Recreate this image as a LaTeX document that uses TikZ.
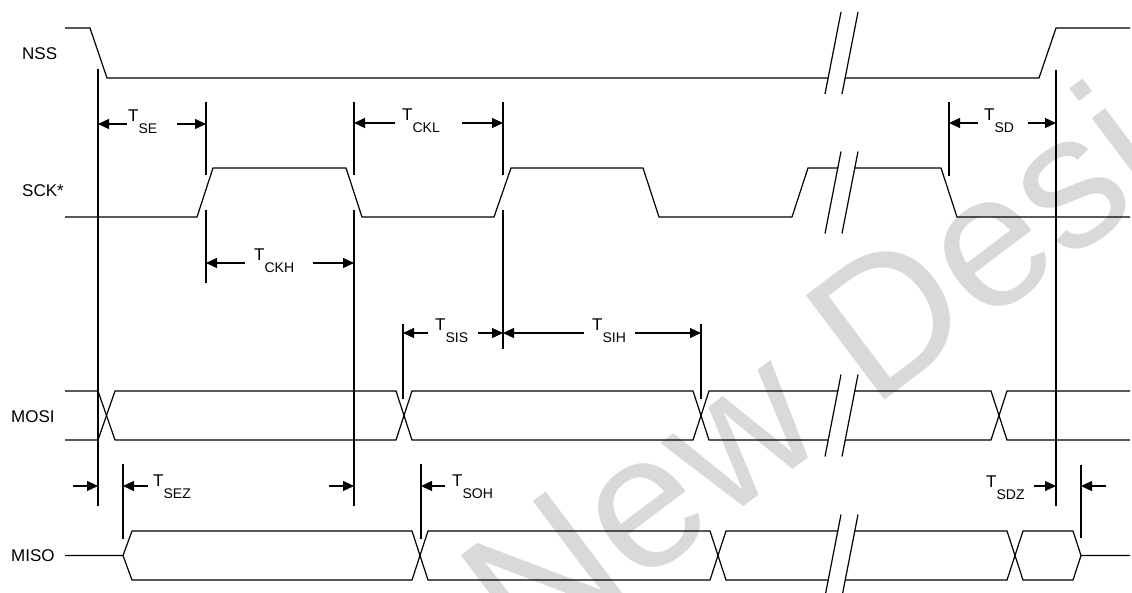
\documentclass[tikz,border=0pt]{standalone}
\usepackage{fontspec}
\setmainfont{Liberation Sans}
\usetikzlibrary{arrows.meta}
\newcommand\Tlab[1]{T\raisebox{-12pt}{\fontsize{14}{14}\selectfont #1}}
\begin{document}
\begin{tikzpicture}[x=1pt,y=-1pt,
  sig/.style={line width=1.2pt, line join=miter},
  guide/.style={line width=1.2pt},
  dim/.style={line width=1.2pt, -{Triangle[length=11pt,width=10pt]}},
  lbl/.style={font=\fontsize{17}{20}\selectfont, inner sep=0pt, anchor=base west},
  brk/.style={line width=1.2pt},
  wmark/.style={font=\fontsize{190}{190}\selectfont, text=black!15, rotate=37, anchor=base west, inner sep=0pt}
]
\useasboundingbox (0,0) rectangle (1132,592);
% watermark
\begin{scope}
\clip (0,0) rectangle (1132,592);
\node[wmark] (wm) at (527,670) {New Designs};
\end{scope}
% signal names
\node[lbl] (nss) at (22,59) {NSS};
\node[lbl] (sck) at (22,196) {SCK*};
\node[lbl] (mosi) at (11,422) {MOSI};
\node[lbl] (miso) at (11,561) {MISO};
% NSS
\draw[sig] (65,28) -- (90,28) -- (107,78) -- (1039,78) -- (1056,28) -- (1130,28);
% SCK
\draw[sig] (65,217) -- (197,217) -- (213,168) -- (346,168) -- (362,217) -- (494,217) -- (511,168) -- (643,168) -- (659,217) -- (792,217) -- (808,168) -- (941,168) -- (957,217) -- (1130,217);
% MOSI
\draw[sig] (65,391) -- (98,391) -- (115,440) -- (396,440) -- (412,391) -- (693,391) -- (709,440) -- (991,440) -- (1007,391) -- (1130,391);
\draw[sig] (65,440) -- (98,440) -- (115,391) -- (396,391) -- (412,440) -- (693,440) -- (709,391) -- (991,391) -- (1007,440) -- (1130,440);
% MISO
\draw[sig] (65,555.5) -- (123,555.5) -- (132,531) -- (412,531) -- (428,580) -- (710,580) -- (726,531) -- (1007,531) -- (1023,580) -- (1073,580) -- (1081,555.5) -- (1130,555.5);
\draw[sig] (123,555.5) -- (132,580) -- (412,580) -- (428,531) -- (710,531) -- (726,580) -- (1007,580) -- (1023,531) -- (1073,531) -- (1081,555.5);
% breaks
\foreach \c in {53,192.5,415.5,555.5}{
  \fill[white] (825.5,\c+41) -- (841.5,\c-41) -- (857.5,\c-41) -- (841.5,\c+41) -- cycle;
  \draw[brk] (825,\c+41) -- (841,\c-41);
  \draw[brk] (842,\c+41) -- (858,\c-41);
}
% guide lines
\draw[guide] (98,69) -- (98,506);
\draw[guide] (206,102) -- (206,175) (206,210) -- (206,283);
\draw[guide] (354,102) -- (354,175) (354,210) -- (354,506);
\draw[guide] (503,102) -- (503,175) (503,210) -- (503,349);
\draw[guide] (949,102) -- (949,176);
\draw[guide] (1056,70) -- (1056,506);
\draw[guide] (403,324) -- (403,399);
\draw[guide] (701,324) -- (701,399);
\draw[guide] (123,464) -- (123,539);
\draw[guide] (421,464) -- (421,539);
\draw[guide] (1081,465) -- (1081,538);
% timing labels
\node[lbl] (tse) at (128,121) {\Tlab{SE}};
\node[lbl] (tckl) at (402,120) {\Tlab{CKL}};
\node[lbl] (tsd) at (984,120) {\Tlab{SD}};
\node[lbl] (tckh) at (254,260) {\Tlab{CKH}};
\node[lbl] (tsis) at (435,330) {\Tlab{SIS}};
\node[lbl] (tsih) at (592,330) {\Tlab{SIH}};
\node[lbl] (tsez) at (153,486) {\Tlab{SEZ}};
\node[lbl] (tsoh) at (452,486) {\Tlab{SOH}};
\node[lbl] (tsdz) at (986,487) {\Tlab{SDZ}};
% dimension arrows
\draw[dim] (127,124) -- (98,124);
\draw[dim] (177,124) -- (206,124);
\draw[dim] (395,123) -- (354,123);
\draw[dim] (462,123) -- (503,123);
\draw[dim] (978,123) -- (949,123);
\draw[dim] (1028,123) -- (1056,123);
\draw[dim] (245,263) -- (206,263);
\draw[dim] (313,263) -- (354,263);
\draw[dim] (428,333) -- (403,333);
\draw[dim] (478,333) -- (503,333);
\draw[dim] (584,333) -- (503,333);
\draw[dim] (635,333) -- (701,333);
\draw[dim] (73,486) -- (98,486);
\draw[dim] (148,486) -- (123,486);
\draw[dim] (329,486) -- (354,486);
\draw[dim] (445,486) -- (421,486);
\draw[dim] (1034,486) -- (1056,486);
\draw[dim] (1106,486) -- (1081,486);
\end{tikzpicture}
\end{document}
